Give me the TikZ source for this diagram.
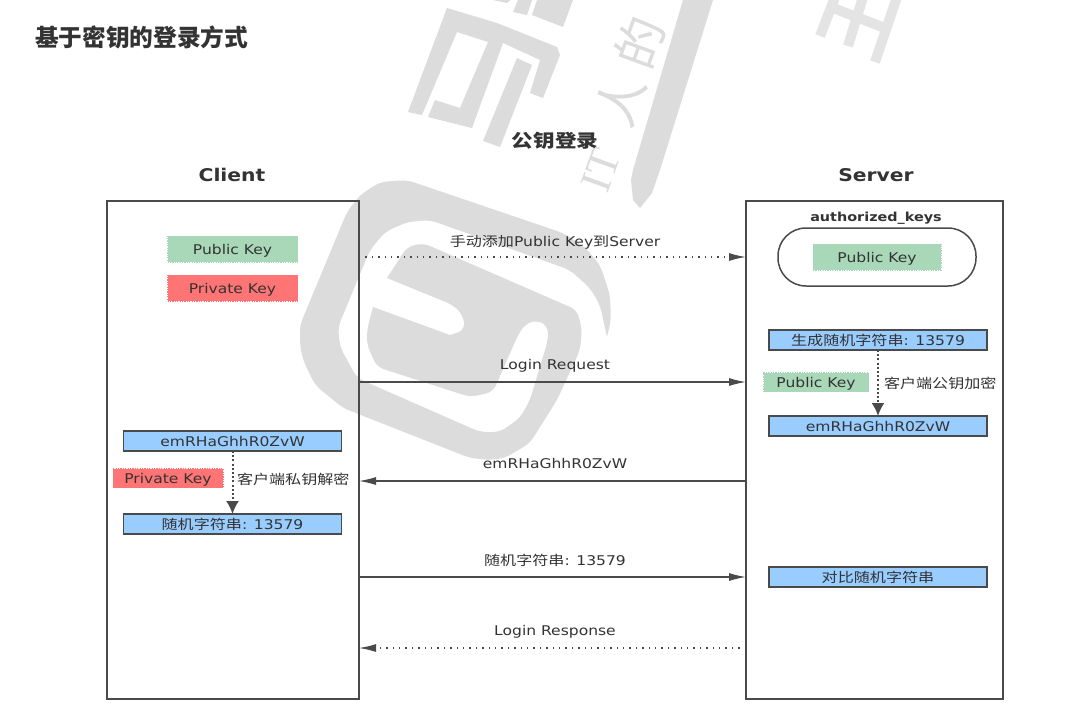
\documentclass[tikz,border=0pt]{standalone}
\usepackage{fontspec}
\setmainfont[FakeStretch=1.16]{DejaVu Sans}
\newfontfamily\cjk[FakeStretch=1.2]{Noto Sans CJK SC}
\newfontfamily\cjkplain{Noto Sans CJK SC}
\newfontfamily\wmserif{Liberation Serif}
\usetikzlibrary{arrows.meta,calc}
\definecolor{wm}{HTML}{DCDCDC}
\definecolor{wmb}{HTML}{E4E4E4}
\definecolor{ln}{HTML}{4A4A4A}
\definecolor{gk}{HTML}{A9D8B8}
\definecolor{rk}{HTML}{FF7474}
\definecolor{bl}{HTML}{99CCFF}
\definecolor{tx}{HTML}{333333}
\tikzset{
 x=1pt,y=-1pt,
 every node/.style={inner sep=0pt,outer sep=0pt,text=tx,font=\fontsize{13.4}{14}\selectfont},
 panel/.style={draw=ln,line width=1.8pt,anchor=north west,fill=none},
 keybox/.style={draw,dash pattern=on 1.2pt off 1.2pt,line width=1pt,minimum height=26pt,text height=10pt,text depth=0pt},
 pub/.style={keybox,draw=gk,fill=gk},
 pri/.style={keybox,draw=rk,fill=rk},
 msg/.style={draw=ln,line width=1.5pt,fill=bl,minimum width=218pt,minimum height=20pt,text height=10pt,text depth=0pt},
 solidarrow/.style={draw=ln,line width=1.2pt,-{Latex[length=17pt,width=8pt]}},
 dotarrow/.style={draw=ln,line width=1.3pt,dash pattern=on 1.4pt off 5pt,-{Latex[length=17pt,width=8pt]}},
 downarrow/.style={draw=ln,line width=2pt,dash pattern=on 2pt off 2.2pt,-{Latex[length=13pt,width=13pt]}},
 headbold/.style={font=\fontsize{17.5}{18}\selectfont\bfseries},
 wmglyph/.style={text=wm,rotate=70},
}
\begin{document}
\begin{tikzpicture}
\useasboundingbox (0,0) rectangle (1066,705);
\fill[white] (0,0) rectangle (1066,705);
% watermark: logo spiral
\fill[wm,rounded corners=7pt]
 (300,345) -- (300,325) -- (347,212) -- (360,195) -- (380,182) -- (407,180) -- (563,233) -- (585,247) -- (600,265) -- (610,295) -- (611,320)
 [sharp corners] -- (607,337) [rounded corners=7pt]
 -- (600,305) -- (590,288) -- (570,270) -- (430,220) -- (407,222) -- (385,232) -- (370,250) -- (338,327) -- (340,347) -- (357,378)
 -- (480,432) -- (500,432) -- (520,418) -- (530,400) -- (548,340) -- (548,326) -- (537,320) -- (525,324) -- (518,335)
 -- (493,392) -- (470,397) -- (377,367) -- (367,345) -- (367,330) [sharp corners] -- (373,307) -- (450,335) [rounded corners=7pt] -- (465,330) -- (463,315) -- (453,305) [sharp corners] -- (387,278) [rounded corners=7pt]
 -- (407,247) -- (423,243) -- (577,310) -- (582,330) -- (580,350) -- (557,400) -- (530,443) -- (505,458) -- (490,460) -- (470,458)
 -- (343,408) -- (315,385) -- (303,360) -- cycle;
% watermark: upper glyph
\fill[wm] (408,112) -- (447,8) -- (497,23) -- (557,47) -- (560,55) -- (543,98) -- (530,93) -- (540,60) -- (503,43) -- (472,128) -- (428,117) -- (435,100) -- (460,108) -- (488,42) -- (457,32) -- (422,115) -- cycle;
\fill[wm] (517,58) -- (532,65) -- (500,147) -- (483,141) -- cycle;
\fill[wm] (513,12) -- (527,15) -- (532,0) -- (518,0) -- cycle;
\fill[wm] (532,15) -- (563,27) -- (573,0) -- (537,0) -- cycle;
\fill[wm] (493,0) -- (507,3) -- (510,0) -- cycle;
% watermark: pen stroke
\fill[wm] (683,0) -- (713,0) -- (660,170) -- (652,193) -- (640,208) -- (633,200) -- (631,180) -- (633,170) -- cycle;
% watermark: right glyph
\draw[wmb,line width=10pt] (835,-3) -- (820,36);
\draw[wmb,line width=10pt] (863,-3) -- (848,46);
\draw[wmb,line width=10pt] (897,-3) -- (875,62);
\draw[wmb,line width=10pt] (833,8) -- (885,28);
% watermark: text
\node[wmglyph,font=\fontsize{44}{44}\selectfont\wmserif] (wi) at (601,170) {IT};
\node[wmglyph,font=\fontsize{50}{50}\selectfont\cjkplain] (wr) at (620,100) {人};
\node[wmglyph,font=\fontsize{50}{50}\selectfont\cjkplain] (wd) at (640,42) {的};
% titles
\node[anchor=west,font=\fontsize{23.7}{24}\selectfont\cjkplain\bfseries] (t0) at (35,37) {基于密钥的登录方式};
\node[font=\fontsize{18}{18}\selectfont\cjk\bfseries] (t1) at (555,141) {公钥登录};
\node[headbold] (tc) at (232,175) {Client};
\node[headbold] (ts) at (876,175) {Server};
% panels
\node[panel,minimum width=252pt,minimum height=498pt] (client) at (107,201) {};
\node[panel,minimum width=257pt,minimum height=498pt] (server) at (746,201) {};
% client
\node[pub,minimum width=130pt] (cpub) at (232.5,249) {Public Key};
\node[pri,minimum width=130pt] (cpri) at (232.5,288) {Private Key};
\node[msg] (cenc) at (232.5,441) {emRHaGhhR0ZvW};
\node[msg] (cdec) at (232.5,524) {{\cjk 随机字符串}: 13579};
\node[pri,minimum width=110pt,minimum height=19pt] (cpk) at (168,478) {Private Key};
\node[anchor=west] (cl) at (237,479) {\cjk 客户端私钥解密};
\draw[downarrow] (cenc) -- (cdec);
% server
\node[font=\fontsize{12.4}{13}\selectfont\bfseries] (ak) at (876,218.5) {authorized\_keys};
\node[draw=ln,line width=1.5pt,rounded corners=28pt,minimum width=198pt,minimum height=58pt] (pill) at (877,257) {};
\node[pub,minimum width=128pt] (spub) at (877,257) {Public Key};
\node[msg] (sgen) at (878,340) {{\cjk 生成随机字符串}: 13579};
\node[pub,minimum width=105pt,minimum height=19pt] (spk) at (816,382) {Public Key};
\node[anchor=west] (sl) at (884,383) {\cjk 客户端公钥加密};
\node[msg] (senc) at (878,426) {emRHaGhhR0ZvW};
\node[msg] (scmp) at (878,577) {\cjk 对比随机字符串};
\draw[downarrow] (sgen) -- (senc);
% connectors
\coordinate (a1) at (359,257); \coordinate (b1) at (746,257);
\coordinate (a2) at (359,382); \coordinate (b2) at (746,382);
\coordinate (a3) at (359,481); \coordinate (b3) at (746,481);
\coordinate (a4) at (359,577); \coordinate (b4) at (746,577);
\coordinate (a5) at (359,648); \coordinate (b5) at (746,648);
\draw[dotarrow] (a1) -- (b1);
\draw[solidarrow] (a2) -- (b2);
\draw[solidarrow] (b3) -- (a3);
\draw[solidarrow] (a4) -- (b4);
\draw[dotarrow] (b5) -- (a5);
\node (l1) at (555,242) {{\cjk 手动添加}Public Key{\cjk 到}Server};
\node (l2) at (555,366) {Login Request};
\node (l3) at (555,463) {emRHaGhhR0ZvW};
\node (l4) at (555,560) {{\cjk 随机字符串}: 13579};
\node (l5) at (555,632) {Login Response};
\end{tikzpicture}
\end{document}
